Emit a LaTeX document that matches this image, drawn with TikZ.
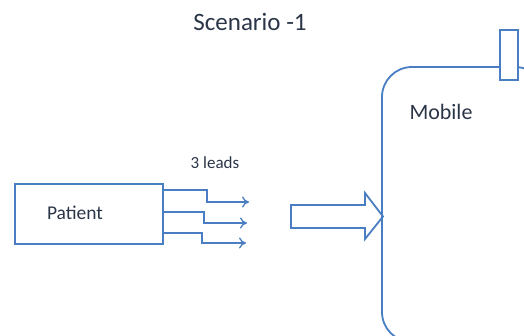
\documentclass[tikz,border=0pt]{standalone}
\usepackage{fontspec}
\setmainfont{Carlito}
\usetikzlibrary{arrows.meta}
\definecolor{lineblue}{HTML}{4A7EC2}
\definecolor{txt}{HTML}{2B3548}
\begin{document}
\begin{tikzpicture}[x=1pt,y=-1pt,
  box/.style={draw=lineblue,line width=1.8pt},
  lead/.style={draw=lineblue,line width=1.3pt,-{To[length=7pt,width=11pt]}},
  lbl/.style={text=txt,inner sep=0pt}]
\useasboundingbox (0,0) rectangle (524,335);
\begin{scope}
\clip (0,0) rectangle (524,335);
\draw[box,rounded corners=30pt] (382,67) rectangle (545,342);
\end{scope}
\draw[box,fill=white] (500,30) rectangle (518,80);
\node[lbl,font=\fontsize{25}{27}\selectfont] (title) at (250,22) {Scenario -1};
\node[lbl,font=\fontsize{22}{24}\selectfont] (mobile) at (441,112) {Mobile};
\node[box,minimum width=148pt,minimum height=60pt,inner sep=0pt] (patient) at (89,214) {};
\node[lbl,font=\fontsize{19.5}{21}\selectfont] (pt) at (75,213) {Patient};
\node[lbl,font=\fontsize{17}{19}\selectfont] (leads) at (215,163) {3 leads};
\coordinate (t1) at (249,202);
\coordinate (t2) at (247,223);
\coordinate (t3) at (246,243);
\draw[lead] (patient.east |- 0,190) -- (207,190) -- (207,202) -- (t1);
\draw[lead] (patient.east |- 0,212) -- (204,212) -- (204,223) -- (t2);
\draw[lead] (patient.east |- 0,233) -- (202,233) -- (202,243) -- (t3);
\draw[box,line join=miter] (291,205) -- (365,205) -- (365,193) -- (383,216.5) -- (365,239) -- (365,228) -- (291,228) -- cycle;
\end{tikzpicture}
\end{document}
